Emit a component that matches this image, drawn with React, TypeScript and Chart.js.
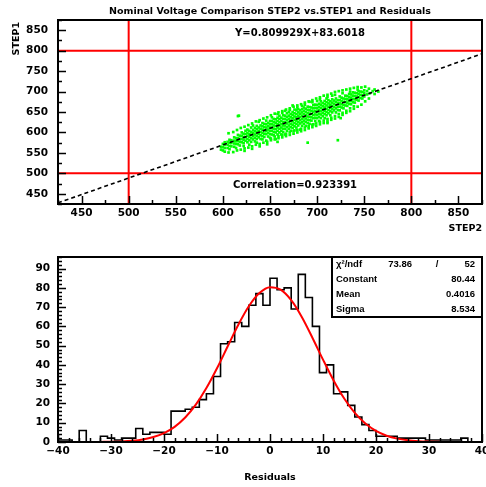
import React, { useEffect, useRef } from "react";
import { Chart, registerables } from "chart.js";
Chart.register(...registerables);

// ---------------- data ----------------
const titleText = "Nominal Voltage Comparison STEP2 vs.STEP1 and Residuals";
const fitLabel = "Y=0.809929X+83.6018";
const corrLabel = "Correlation=0.923391";
const xTitleTop = "STEP2";
const yTitleTop = "STEP1";
const xTitleBottom = "Residuals";

const scatterXRange = [425, 875];
const scatterYRange = [425, 875];
const topXTicks = [450, 500, 550, 600, 650, 700, 750, 800, 850];
const topYTicks = [450, 500, 550, 600, 650, 700, 750, 800, 850];
const fitLineX = [425, 875];
const fitLineY = [427.82, 792.29];
const cutLinesX = [500, 800];
const cutLinesY = [500, 800];

const cloudPoints: [number, number][] = [
  [598, 558], [598, 565],
  [600, 556], [600, 564], [600, 572],
  [602, 553], [602, 562], [602, 570], [602, 576],
  [605, 562], [605, 570], [605, 577],
  [607, 559], [607, 567], [607, 575], [607, 582],
  [609, 566], [609, 574], [609, 581],
  [612, 565], [612, 573], [612, 580], [612, 588],
  [614, 562], [614, 572], [614, 579], [614, 586],
  [616, 571], [616, 579], [616, 586], [616, 594], [616, 640], [617, 641],
  [618, 568], [618, 577], [618, 584], [618, 592],
  [620, 576], [620, 584], [620, 592], [620, 600],
  [622, 567], [622, 574], [622, 582], [622, 589], [622, 597],
  [624, 580], [624, 588], [624, 596], [624, 604],
  [626, 576], [626, 584], [626, 592], [626, 599], [626, 607],
  [628, 570], [628, 581], [628, 589], [628, 596], [628, 604],
  [630, 577], [630, 586], [630, 594], [630, 601], [630, 612],
  [632, 583], [632, 591], [632, 599], [632, 606], [632, 617],
  [634, 578], [634, 587], [634, 595], [634, 603], [634, 611],
  [636, 575], [636, 584], [636, 592], [636, 600], [636, 608], [636, 616],
  [638, 588], [638, 596], [638, 604], [638, 612], [638, 626],
  [640, 584], [640, 593], [640, 601], [640, 609], [640, 617],
  [642, 583], [642, 591], [642, 599], [642, 607], [642, 615], [642, 623],
  [644, 589], [644, 597], [644, 605], [644, 613], [644, 621],
  [646, 580], [646, 596], [646, 604], [646, 612], [646, 620], [646, 629],
  [648, 590], [648, 599], [648, 607], [648, 615], [648, 623],
  [650, 587], [650, 596], [650, 604], [650, 612], [650, 620], [650, 628],
  [652, 595], [652, 604], [652, 612], [652, 620], [652, 628], [652, 637],
  [654, 593], [654, 601], [654, 609], [654, 617], [654, 625], [654, 633],
  [656, 584], [656, 600], [656, 608], [656, 616], [656, 624], [656, 632],
  [658, 577], [658, 595], [658, 604], [658, 612], [658, 620], [658, 628], [658, 636], [658, 645],
  [660, 600], [660, 609], [660, 617], [660, 625], [660, 633], [660, 641],
  [662, 595], [662, 604], [662, 612], [662, 620], [662, 628], [662, 636],
  [664, 601], [664, 609], [664, 617], [664, 625], [664, 633], [664, 642],
  [666, 595], [666, 609], [666, 617], [666, 625], [666, 633], [666, 641], [666, 653],
  [668, 604], [668, 613], [668, 622], [668, 630], [668, 638], [668, 647],
  [670, 609], [670, 617], [670, 625], [670, 633], [670, 641], [670, 650],
  [672, 604], [672, 613], [672, 621], [672, 629], [672, 637], [672, 645],
  [674, 611], [674, 619], [674, 627], [674, 635], [674, 643], [674, 650], [674, 666],
  [676, 605], [676, 615], [676, 623], [676, 631], [676, 639], [676, 647], [676, 656],
  [678, 612], [678, 621], [678, 629], [678, 637], [678, 645], [678, 654],
  [680, 617], [680, 625], [680, 633], [680, 641], [680, 649], [680, 657],
  [682, 607], [682, 622], [682, 630], [682, 638], [682, 646], [682, 654],
  [684, 616], [684, 625], [684, 633], [684, 641], [684, 649], [684, 657], [684, 665],
  [686, 621], [686, 629], [686, 637], [686, 645], [686, 653], [686, 661],
  [688, 616], [688, 626], [688, 634], [688, 642], [688, 650], [688, 658],
  [690, 575], [690, 623], [690, 631], [690, 639], [690, 647], [690, 655], [690, 663],
  [692, 621], [692, 630], [692, 638], [692, 646], [692, 654], [692, 662], [692, 675],
  [694, 629], [694, 637], [694, 645], [694, 653], [694, 661],
  [696, 620], [696, 635], [696, 643], [696, 651], [696, 659], [696, 667],
  [698, 628], [698, 636], [698, 644], [698, 652], [698, 660], [698, 668],
  [700, 635], [700, 643], [700, 651], [700, 659], [700, 667], [700, 677],
  [702, 628], [702, 638], [702, 646], [702, 654], [702, 662], [702, 670],
  [704, 635], [704, 644], [704, 652], [704, 660], [704, 668], [704, 676],
  [706, 640], [706, 648], [706, 656], [706, 664], [706, 672],
  [708, 635], [708, 645], [708, 653], [708, 661], [708, 669], [708, 677],
  [710, 642], [710, 650], [710, 658], [710, 666], [710, 674], [710, 683],
  [711, 623],
  [712, 647], [712, 655], [712, 663], [712, 671], [712, 679],
  [714, 642], [714, 652], [714, 660], [714, 668], [714, 676],
  [716, 649], [716, 657], [716, 665], [716, 673], [716, 681], [716, 690],
  [718, 654], [718, 662], [718, 670], [718, 678],
  [720, 649], [720, 659], [720, 667], [720, 675], [720, 683],
  [722, 581], [722, 655], [722, 663], [722, 671], [722, 679],
  [724, 654], [724, 663], [724, 671], [724, 679], [724, 688],
  [725, 635],
  [726, 661], [726, 669], [726, 677], [726, 685],
  [728, 659], [728, 667], [728, 675], [728, 683],
  [730, 666], [730, 674], [730, 682], [730, 690],
  [732, 665], [732, 673], [732, 681], [732, 689],
  [734, 670], [734, 678], [734, 686], [734, 694],
  [736, 669], [736, 677], [736, 685], [736, 693],
  [738, 674], [738, 682], [738, 690], [738, 698],
  [740, 673], [740, 681], [740, 689], [740, 697],
  [742, 680], [742, 688], [742, 696],
  [744, 678], [744, 686], [744, 694], [744, 701],
  [746, 684], [746, 692], [746, 700],
  [748, 683], [748, 691], [748, 699],
  [750, 688], [750, 696], [750, 703],
  [753, 693], [753, 701],
  [756, 696],
  [759, 701],
  // sparse outer halo
  [606, 551], [606, 598], [611, 552], [611, 601], [615, 556], [615, 606],
  [619, 558], [619, 611], [623, 561], [623, 614], [623, 555], [627, 563], [627, 618],
  [631, 566], [631, 622], [631, 560], [635, 570], [635, 627], [639, 572], [639, 630],
  [639, 566], [643, 575], [643, 634], [647, 577], [647, 637], [647, 571], [651, 581],
  [651, 642], [651, 585], [655, 583], [655, 646], [655, 590], [659, 586], [659, 649],
  [659, 591], [663, 588], [663, 652], [663, 594], [663, 648], [667, 591], [667, 656],
  [667, 597], [671, 594], [671, 659], [671, 600], [671, 655], [675, 597], [675, 663],
  [675, 603], [679, 600], [679, 666], [679, 606], [679, 661], [683, 603], [683, 669],
  [683, 609], [687, 606], [687, 673], [687, 612], [687, 668], [691, 610], [691, 676],
  [691, 615], [695, 613], [695, 679], [695, 619], [695, 674], [699, 616], [699, 683],
  [699, 622], [703, 620], [703, 686], [703, 626], [703, 681], [707, 623], [707, 690],
  [707, 629], [711, 627], [711, 692], [711, 633], [711, 687], [715, 631], [715, 695],
  [715, 636], [719, 634], [719, 699], [719, 640], [719, 692], [723, 638], [723, 701],
  [723, 645], [727, 643], [727, 703], [727, 648], [727, 696], [731, 648], [731, 705],
  [731, 653], [735, 652], [735, 707], [735, 659], [735, 700], [739, 658], [739, 709],
  [739, 664], [743, 663], [743, 711], [743, 705], [747, 668], [747, 710], [751, 676],
  [751, 712], [755, 683], [755, 707], [761, 694], [761, 705], [765, 700],
];

const histMin = -40;
const histMax = 40;
const botXTicks = [-40, -30, -20, -10, 0, 10, 20, 30, 40];
const botYTicks = [0, 10, 20, 30, 40, 50, 60, 70, 80, 90];
const histCounts = [
  1, 1, 0, 6, 0, 0, 3, 2, 1, 2,
  2, 7, 4, 5, 5, 4, 16, 16, 17, 18,
  22, 25, 34, 51, 52, 62, 60, 71, 77, 71,
  85, 79, 80, 69, 87, 75, 60, 36, 40, 25,
  26, 19, 13, 9, 6, 3, 3, 3, 2, 2,
  2, 2, 1, 1, 1, 1, 1, 2, 0, 0,
];
const histYMax = 96;

const gaussX = [-32, -30, -28, -26, -24, -22, -20, -18, -16, -14, -12, -10, -8, -6, -4, -2, 0,
  2, 4, 6, 8, 10, 12, 14, 16, 18, 20, 22, 24, 26, 28, 30, 32];
const gaussY = [0.06, 0.14, 0.32, 0.67, 1.35, 2.57, 4.62, 7.87, 12.68, 19.37, 27.99, 38.27, 49.54,
  60.7, 70.42, 77.32, 80.35, 79.04, 73.59, 64.87, 54.12, 42.74, 31.94, 22.6, 15.14, 9.6, 5.76,
  3.27, 1.76, 0.9, 0.43, 0.2, 0.08];

const statLabels = ["\u03C7\u00B2/ndf", "Constant", "Mean", "Sigma"];
const statValues = ["52", "80.44", "0.4016", "8.534"];
const chi2Value = "73.86";

// ---------------- helpers ----------------
const tickFont = { family: "DejaVu Sans", weight: "bold" as const, size: 10.5 };
const labelFont = "bold 9.5px 'DejaVu Sans'";
const statFont = "bold 9.5px 'Liberation Sans'";

function axisDecor(xMajor: number, xMinor: number, yMajor: number, yMinor: number) {
  return {
    id: "axisDecor",
    afterDatasetsDraw(chart: any) {
      const { ctx, chartArea: a, scales } = chart;
      const xs = scales.x;
      const ys = scales.y;
      ctx.save();
      ctx.strokeStyle = "#000";
      ctx.lineWidth = 1.5;
      ctx.beginPath();
      const n0 = Math.ceil(xs.min / xMinor - 1e-9);
      const n1 = Math.floor(xs.max / xMinor + 1e-9);
      for (let i = n0; i <= n1; i++) {
        const v = i * xMinor;
        const major = Math.abs(v / xMajor - Math.round(v / xMajor)) < 1e-6;
        const p = Math.round(xs.getPixelForValue(v)) + 0.5;
        ctx.moveTo(p, a.bottom);
        ctx.lineTo(p, a.bottom - (major ? 8 : 4));
      }
      const m0 = Math.ceil(ys.min / yMinor - 1e-9);
      const m1 = Math.floor(ys.max / yMinor + 1e-9);
      for (let i = m0; i <= m1; i++) {
        const v = i * yMinor;
        const major = Math.abs(v / yMajor - Math.round(v / yMajor)) < 1e-6;
        const p = Math.round(ys.getPixelForValue(v)) + 0.5;
        ctx.moveTo(a.left, p);
        ctx.lineTo(a.left + (major ? 8 : 4), p);
      }
      ctx.stroke();
      ctx.lineWidth = 2;
      ctx.strokeRect(a.left, a.top, a.right - a.left, a.bottom - a.top);
      ctx.restore();
    },
  };
}

type TextItem = { text: string; x: number; y: number; align: CanvasTextAlign; font: string; rotate?: boolean };

function textPlugin(items: TextItem[]) {
  return {
    id: "texts",
    afterDraw(chart: any) {
      const ctx = chart.ctx;
      ctx.save();
      ctx.fillStyle = "#000";
      ctx.textBaseline = "middle";
      for (const t of items) {
        ctx.font = t.font;
        ctx.textAlign = t.align;
        if (t.rotate) {
          ctx.save();
          ctx.translate(t.x, t.y);
          ctx.rotate(-Math.PI / 2);
          ctx.fillText(t.text, 0, 0);
          ctx.restore();
        } else {
          ctx.fillText(t.text, t.x, t.y);
        }
      }
      ctx.restore();
    },
  };
}

const statsBox = {
  id: "statsBox",
  afterDraw(chart: any) {
    const { ctx, chartArea: a } = chart;
    const w = 150;
    const h = 60;
    const left = a.right - w;
    const top = a.top;
    ctx.save();
    ctx.fillStyle = "#fff";
    ctx.fillRect(left, top, w, h);
    ctx.strokeStyle = "#000";
    ctx.lineWidth = 2;
    ctx.strokeRect(left, top, w, h);
    ctx.fillStyle = "#000";
    ctx.font = statFont;
    ctx.textBaseline = "middle";
    const rowH = h / statLabels.length;
    statLabels.forEach((lab, i) => {
      const y = top + rowH * (i + 0.5);
      ctx.textAlign = "left";
      ctx.fillText(lab, left + 4, y);
      ctx.textAlign = "right";
      ctx.fillText(statValues[i], a.right - 7, y);
      if (i === 0) {
        ctx.fillText(chi2Value, left + 80, y);
        ctx.textAlign = "center";
        ctx.fillText("/", left + 105, y);
      }
    });
    ctx.restore();
  },
};

const fixTicks = (values: number[]) => (s: any) => {
  s.ticks = values.map((v) => ({ value: v }));
};

function makeTop(canvas: HTMLCanvasElement) {
  const datasets: any[] = [];
  datasets.push({
    type: "line",
    data: fitLineX.map((x, i) => ({ x, y: fitLineY[i] })),
    borderColor: "#000",
    borderWidth: 1.6,
    borderDash: [4, 3],
    pointRadius: 0,
    order: 0,
  });
  cutLinesX.forEach((v) =>
    datasets.push({
      type: "line",
      data: [{ x: v, y: scatterYRange[0] }, { x: v, y: scatterYRange[1] }],
      borderColor: "#ff0000",
      borderWidth: 2,
      pointRadius: 0,
      order: 1,
    })
  );
  cutLinesY.forEach((v) =>
    datasets.push({
      type: "line",
      data: [{ x: scatterXRange[0], y: v }, { x: scatterXRange[1], y: v }],
      borderColor: "#ff0000",
      borderWidth: 2,
      pointRadius: 0,
      order: 1,
    })
  );
  datasets.push({
    type: "scatter",
    data: cloudPoints.map(([x, y]) => ({ x, y })),
    backgroundColor: "#00ff00",
    borderWidth: 0,
    pointStyle: "rect",
    pointRadius: 1.9,
    order: 2,
  });
  return new Chart(canvas, {
    type: "scatter",
    data: { datasets },
    options: {
      animation: false,
      responsive: false,
      devicePixelRatio: 1,
      events: [],
      layout: { padding: { top: 20, right: 4, left: 0, bottom: 0 } },
      plugins: { legend: { display: false }, tooltip: { enabled: false }, title: { display: false } },
      scales: {
        x: {
          type: "linear",
          min: scatterXRange[0],
          max: scatterXRange[1],
          grid: { display: false, drawTicks: false },
          border: { display: false },
          afterBuildTicks: fixTicks(topXTicks),
          ticks: {
            autoSkip: false,
            maxRotation: 0,
            padding: 3,
            color: "#000",
            font: tickFont,
            callback: (v: any) => String(v),
          },
          afterFit: (s: any) => {
            s.height = 39;
            s.paddingLeft = 0;
            s.paddingRight = 0;
          },
        },
        y: {
          type: "linear",
          min: scatterYRange[0],
          max: scatterYRange[1],
          grid: { display: false, drawTicks: false },
          border: { display: false },
          afterBuildTicks: fixTicks(topYTicks),
          ticks: {
            autoSkip: false,
            padding: 10,
            color: "#000",
            font: tickFont,
            callback: (v: any) => String(v),
          },
          afterFit: (s: any) => {
            s.width = 58;
            s.paddingTop = 0;
            s.paddingBottom = 0;
          },
        },
      },
    } as any,
    plugins: [
      axisDecor(50, 25, 50, 25),
      textPlugin([
        { text: titleText, x: 270, y: 12, align: "center", font: labelFont },
        { text: fitLabel, x: 300, y: 33, align: "center", font: "bold 10px 'DejaVu Sans'" },
        { text: corrLabel, x: 295, y: 185, align: "center", font: "bold 10px 'DejaVu Sans'" },
        { text: xTitleTop, x: 482, y: 229, align: "right", font: labelFont },
        { text: yTitleTop, x: 17, y: 22, align: "right", font: labelFont, rotate: true },
      ]),
    ] as any,
  });
}

function makeBottom(canvas: HTMLCanvasElement) {
  const binW = (histMax - histMin) / histCounts.length;
  const histPts = histCounts.map((c, i) => ({ x: histMin + i * binW, y: c }));
  histPts.push({ x: histMax, y: histCounts[histCounts.length - 1] });
  return new Chart(canvas, {
    type: "line",
    data: {
      datasets: [
        {
          data: gaussX.map((x, i) => ({ x, y: gaussY[i] })),
          borderColor: "#ff0000",
          borderWidth: 2,
          pointRadius: 0,
          cubicInterpolationMode: "monotone",
          order: 0,
        },
        {
          data: histPts,
          borderColor: "#000",
          borderWidth: 1.6,
          pointRadius: 0,
          stepped: true,
          order: 1,
        },
      ],
    },
    options: {
      animation: false,
      responsive: false,
      devicePixelRatio: 1,
      events: [],
      layout: { padding: { top: 14, right: 4, left: 0, bottom: 0 } },
      plugins: { legend: { display: false }, tooltip: { enabled: false }, title: { display: false } },
      scales: {
        x: {
          type: "linear",
          min: histMin,
          max: histMax,
          grid: { display: false, drawTicks: false },
          border: { display: false },
          afterBuildTicks: fixTicks(botXTicks),
          ticks: {
            autoSkip: false,
            maxRotation: 0,
            padding: 3,
            color: "#000",
            font: tickFont,
            callback: (v: any) => String(v).replace("-", "\u2212"),
          },
          afterFit: (s: any) => {
            s.height = 45;
            s.paddingLeft = 0;
            s.paddingRight = 0;
          },
        },
        y: {
          type: "linear",
          min: 0,
          max: histYMax,
          grid: { display: false, drawTicks: false },
          border: { display: false },
          afterBuildTicks: fixTicks(botYTicks),
          ticks: {
            autoSkip: false,
            padding: 8,
            color: "#000",
            font: tickFont,
            callback: (v: any) => String(v),
          },
          afterFit: (s: any) => {
            s.width = 58;
            s.paddingTop = 0;
            s.paddingBottom = 0;
          },
        },
      },
    } as any,
    plugins: [
      axisDecor(10, 2, 10, 2),
      statsBox,
      textPlugin([{ text: xTitleBottom, x: 270, y: 235, align: "center", font: labelFont }]),
    ] as any,
  });
}

export default function App() {
  const topRef = useRef<HTMLCanvasElement>(null);
  const botRef = useRef<HTMLCanvasElement>(null);
  useEffect(() => {
    const c1 = makeTop(topRef.current!);
    const c2 = makeBottom(botRef.current!);
    return () => {
      c1.destroy();
      c2.destroy();
    };
  }, []);
  return (
    <div style={{ position: "fixed", left: 0, top: 0, width: 486, height: 487, background: "#fff" }}>
      <canvas
        ref={topRef}
        width={486}
        height={243}
        style={{ position: "absolute", left: 0, top: 0, width: 486, height: 243 }}
      />
      <canvas
        ref={botRef}
        width={486}
        height={244}
        style={{ position: "absolute", left: 0, top: 243, width: 486, height: 244 }}
      />
    </div>
  );
}
